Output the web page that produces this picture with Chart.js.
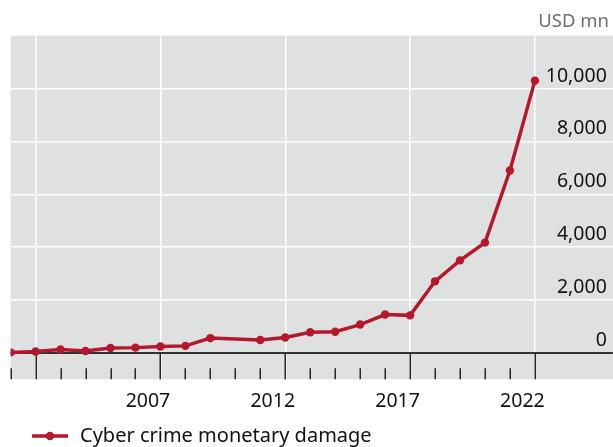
<!DOCTYPE html>
<html><head><meta charset="utf-8">
<script src="https://cdn.jsdelivr.net/npm/chart.js@4.4.1/dist/chart.umd.min.js"></script>
<style>html,body{margin:0;padding:0;background:#fff;overflow:hidden}#wrap{position:relative;width:613px;height:447px}</style>
</head><body><div id="wrap"><canvas id="c"></canvas></div>
<script>
const years = [2001,2002,2003,2004,2005,2006,2007,2008,2009,2010,2011,2012,2013,2014,2015,2016,2017,2018,2019,2020,2021,2022];
const damage = [17.8,54,125.6,68.1,183.1,198.4,239.1,264.6,559.7,null,485.3,581.4,781.8,800.5,1070.7,1450.7,1418.7,2706.4,3500,4170,6900,10300];
const yTickValues = [0,2000,4000,6000,8000,10000];
const majorYears = [2002,2007,2012,2017,2022];
const xTickLabels = ['2007','2012','2017','2022'];
const seriesName = 'Cyber crime monetary damage';
const unitLabel = 'USD mn';

const RED = '#b5172d';
const GRAY_BG = '#dfe0e0';
const FONT = "'Noto Sans', 'Open Sans', sans-serif";

// legend symbol: line with dot
const sym = document.createElement('canvas');
sym.width = 58; sym.height = 12;
(function(){
  const g = sym.getContext('2d');
  g.strokeStyle = RED; g.lineWidth = 3.5;
  g.beginPath(); g.moveTo(20, 6); g.lineTo(56, 6); g.stroke();
  g.fillStyle = RED; g.beginPath(); g.arc(38, 6, 4.2, 0, Math.PI * 2); g.fill();
})();

const bgPlugin = {
  id: 'bg',
  beforeDraw(chart) {
    const {ctx, chartArea: a} = chart;
    ctx.save();
    ctx.fillStyle = GRAY_BG;
    ctx.fillRect(a.left, a.top, chart.width - a.left, a.bottom - a.top);
    ctx.restore();
  }
};

const tickPlugin = {
  id: 'xticks',
  beforeDatasetsDraw(chart) {
    const {ctx, chartArea: a} = chart;
    const xs = chart.scales.x, ys = chart.scales.y;
    const y0 = ys.getPixelForValue(0);
    const yMinor = ys.getPixelForValue(-580);
    ctx.save();
    ctx.strokeStyle = '#262626';
    ctx.lineWidth = 1.5;
    years.forEach(v => {
      const px = Math.round(xs.getPixelForValue(v)) + 0.25;
      ctx.beginPath();
      ctx.moveTo(px, majorYears.includes(v) ? y0 : yMinor);
      ctx.lineTo(px, a.bottom);
      ctx.stroke();
    });
    ctx.restore();
  }
};

new Chart(document.getElementById('c'), {
  type: 'line',
  data: {
    datasets: [{
      label: seriesName,
      data: years.map((y, i) => ({x: y, y: damage[i]})),
      borderColor: RED,
      backgroundColor: RED,
      borderWidth: 3.5,
      pointRadius: 4.2,
      pointHoverRadius: 4.2,
      pointBackgroundColor: RED,
      pointBorderWidth: 0,
      spanGaps: true,
      tension: 0,
      clip: {left: 0, top: 10, right: 10, bottom: 10}
    }]
  },
  options: {
    responsive: true,
    maintainAspectRatio: false,
    animation: false,
    layout: {padding: {top: 0, left: 10, right: 4, bottom: -9}},
    plugins: {
      title: {
        display: true,
        text: unitLabel,
        align: 'end',
        color: '#6e6e6e',
        font: {family: FONT, size: 18.5, weight: 'normal'},
        padding: {top: 10.4, bottom: 3.1}
      },
      legend: {
        display: true,
        position: 'bottom',
        align: 'start',
        labels: {
          usePointStyle: true,
          pointStyle: sym,
          pointStyleWidth: 58,
          padding: 2,
          color: '#111',
          font: {family: FONT, size: 20}
        }
      },
      tooltip: {enabled: false}
    },
    scales: {
      x: {
        type: 'linear',
        min: 2001,
        max: 2024.96,
        afterBuildTicks: (axis) => { axis.ticks = years.map(v => ({value: v})); },
        grid: {
          drawTicks: false,
          lineWidth: 1.5,
          color: (c) => (c.tick && majorYears.includes(c.tick.value)) ? '#ffffff' : 'rgba(0,0,0,0)'
        },
        border: {display: false},
        ticks: {
          autoSkip: false,
          maxRotation: 0,
          padding: 10.65,
          labelOffset: -12.5,
          color: '#111',
          font: {family: FONT, size: 19.5},
          callback: (v) => xTickLabels.includes(String(v)) ? String(v) : ''
        }
      },
      y: {
        position: 'right',
        min: -1000,
        max: 12000,
        afterBuildTicks: (axis) => { axis.ticks = yTickValues.map(v => ({value: v})); },
        grid: {
          drawTicks: true,
          tickLength: 4,
          lineWidth: (c) => (c.tick && c.tick.value === 0) ? 2 : 1.5,
          color: (c) => (c.tick && c.tick.value === 0) ? '#333333' : '#ffffff'
        },
        border: {display: false},
        ticks: {
          mirror: true,
          padding: -2,
          labelOffset: -12.5,
          color: '#111',
          font: {family: FONT, size: 19.5},
          callback: (v) => Number(v).toLocaleString('en-US')
        }
      }
    }
  },
  plugins: [bgPlugin, tickPlugin]
});
</script>
</body></html>
